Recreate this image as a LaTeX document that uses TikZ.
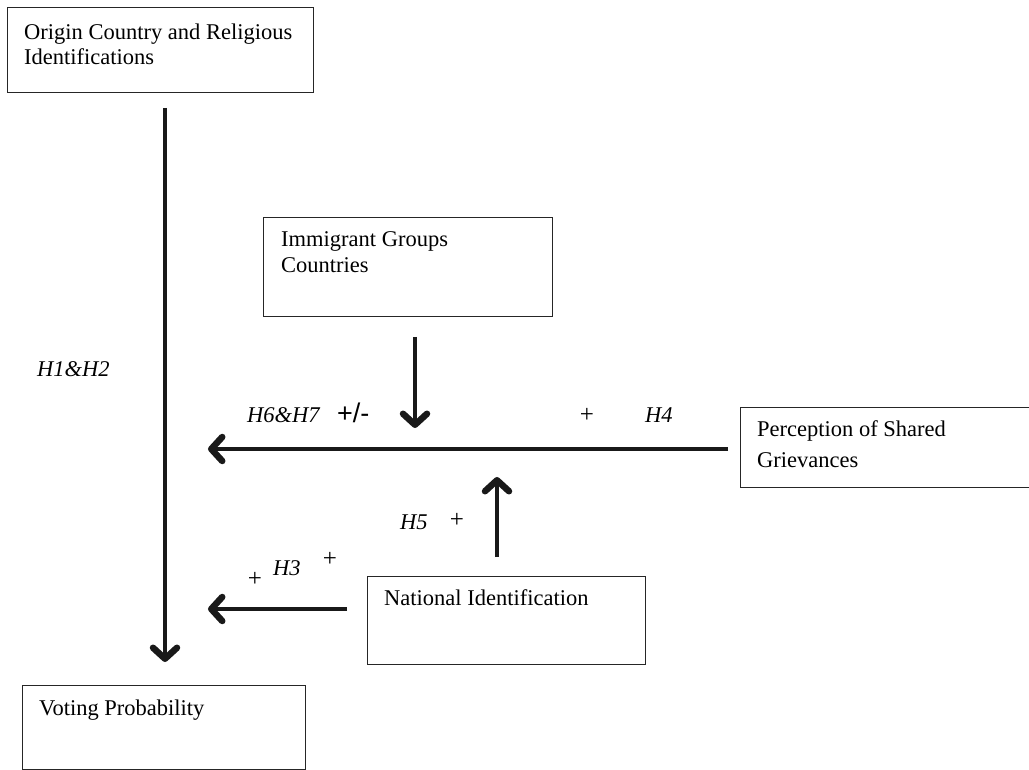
\documentclass[tikz,border=0pt]{standalone}
\usepackage{fontspec}
\setmainfont{Liberation Serif}
\newfontfamily\arialfont{Liberation Sans}
\usetikzlibrary{arrows.meta}
\begin{document}
\begin{tikzpicture}[x=1pt,y=-1pt,
  box/.style={draw=black!85,line width=1.2pt,rectangle,inner sep=0pt,anchor=north west},
  txt/.style={anchor=base west,inner sep=0pt,font=\fontsize{22.5}{25}\selectfont},
  lbl/.style={anchor=base west,inner sep=0pt,font=\fontsize{22.5}{25}\selectfont\itshape},
  plus/.style={inner sep=0pt,font=\fontsize{25}{28}\selectfont},
  arr/.style={line width=4.2pt,black!90,-{Straight Barb[length=11pt,width=24pt,line width=6.5pt,round]}}]
\useasboundingbox (0,0) rectangle (1029,770);
\clip (0,0) rectangle (1029,770);
% boxes
\node[box,minimum width=306pt,minimum height=85pt] (origin) at (7,7) {};
\node[box,minimum width=289pt,minimum height=99pt] (immig) at (263,217) {};
\node[box,minimum width=300pt,minimum height=80pt] (percep) at (740,407) {};
\node[box,minimum width=278pt,minimum height=88pt] (natid) at (367,576) {};
\node[box,minimum width=283pt,minimum height=84pt] (vote) at (22,685) {};
% box texts
\node[txt] (t1) at (24,40) {Origin Country and Religious};
\node[txt] (t1b) at (24,65) {Identifications};
\node[txt] (t2) at (281,247) {Immigrant Groups};
\node[txt] (t2b) at (281,273) {Countries};
\node[txt] (t3) at (757,436) {Perception of Shared};
\node[txt] (t3b) at (757,467) {Grievances};
\node[txt] (t4) at (384,605) {National Identification};
\node[txt] (t5) at (39,715) {Voting Probability};
% arrow end points
\coordinate (a1s) at (165,108);
\coordinate (a1e) at (165,662);
\coordinate (a2s) at (415,337);
\coordinate (a2e) at (415,428);
\coordinate (a3s) at (728,449);
\coordinate (a3e) at (208,449);
\coordinate (a4s) at (497,557);
\coordinate (a4e) at (497,477);
\coordinate (a5s) at (347,609);
\coordinate (a5e) at (208,609);
\draw[arr] (a1s) -- (a1e);
\draw[arr] (a2s) -- (a2e);
\draw[arr] (a3s) -- (a3e);
\draw[arr] (a4s) -- (a4e);
\draw[arr] (a5s) -- (a5e);
% labels
\node[lbl] (h12) at (37,376) {H1\&H2};
\node[lbl] (h67) at (247,422) {H6\&H7};
\node[anchor=base west,inner sep=0pt,font=\fontsize{27}{30}\arialfont] (pm) at (337,422) {+/-};
\node[plus] (p4) at (587,415) {+};
\node[lbl] (h4) at (645,422) {H4};
\node[lbl] (h5) at (400,529) {H5};
\node[plus] (p5) at (457,520) {+};
\node[plus] (p3a) at (255,579) {+};
\node[lbl] (h3) at (273,575) {H3};
\node[plus] (p3b) at (330,559) {+};
\end{tikzpicture}
\end{document}
